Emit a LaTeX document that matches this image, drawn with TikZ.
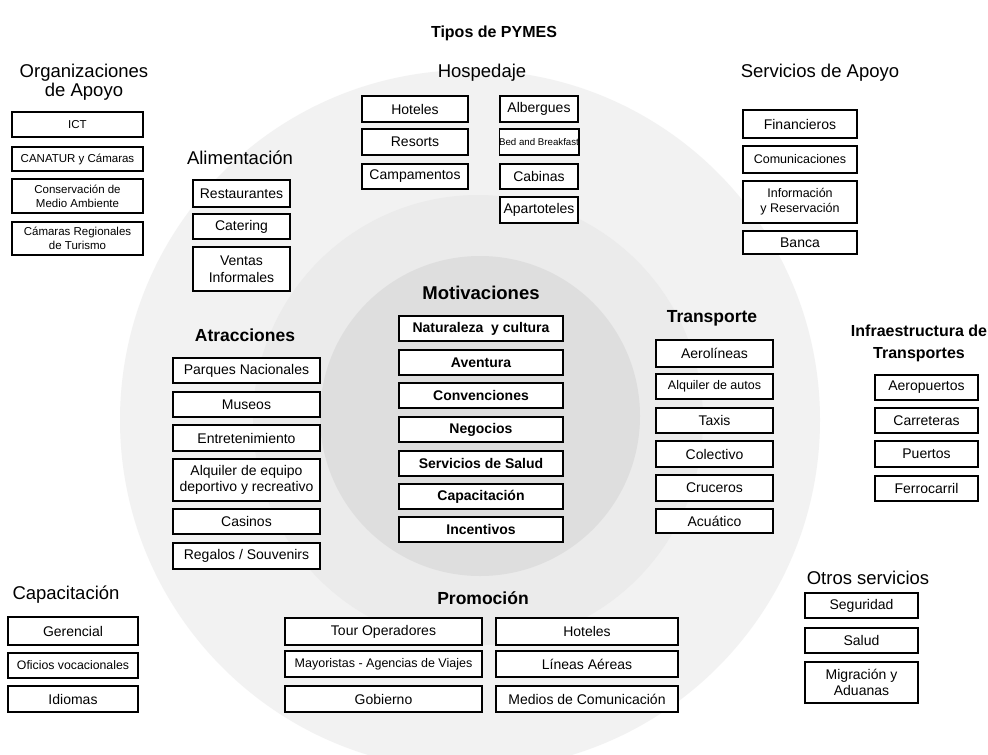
\documentclass[tikz,border=0pt]{standalone}
\usepackage{fontspec}
\setmainfont{Liberation Sans}
\usepackage{tikz}
\tikzset{
	caja/.style={%Cajas con borde
		draw=black, line width=1.2pt, fill=white, inner sep=0pt, align=center,
		font=\fontsize{14}{16.5}\selectfont},
	chica/.style={font=\fontsize{11.5}{14}\selectfont},
	media/.style={font=\fontsize{12.5}{15}\selectfont},
	negrita/.style={font=\bfseries\fontsize{14}{17}\selectfont},
	encab/.style={font=\fontsize{18.5}{19}\selectfont, align=center},
	encabneg/.style={font=\bfseries\fontsize{17.5}{22}\selectfont, align=center}
}

\begin{document}
\begin{tikzpicture}[x=1pt, y=-1pt]
	\useasboundingbox (0,0) rectangle (988,755);
	\clip (0,0) rectangle (988,755);
	\fill [white] (0,0) rectangle (988,755);
	\fill [black!5] (470,420) circle (350);
	\fill [black!8] (478,420) circle (225);
	\fill [black!13] (480,416) circle (160);
	\node [font=\bfseries\fontsize{16}{19}\selectfont] (tipos) at (494,33) {Tipos de PYMES};
	% Organizaciones de Apoyo
	\node [encab] (organizaciones) at (84,82) {Organizaciones\\de Apoyo};
	\node [caja, chica, minimum width=131pt, minimum height=25pt] (ict) at (77.5,124.5) {ICT};
	\node [caja, chica, minimum width=131pt, minimum height=24pt] (canatur) at (77.5,159) {CANATUR y C\'amaras};
	\node [caja, chica, minimum width=131pt, minimum height=34pt] (conservacion) at (77.5,196) {Conservaci\'on de\\Medio Ambiente};
	\node [caja, chica, minimum width=131pt, minimum height=33pt] (camaras) at (77.5,238.5) {C\'amaras Regionales\\de Turismo};
	% Alimentacion
	\node [encab] (alimentacion) at (240,158) {Alimentaci\'on};
	\node [caja, minimum width=97pt, minimum height=27pt] (restaurantes) at (241.5,193.5) {Restaurantes};
	\node [caja, minimum width=97pt, minimum height=25pt] (catering) at (241.5,226.5) {Catering};
	\node [caja, minimum width=97pt, minimum height=44pt] (ventas) at (241.5,269) {Ventas\\Informales};
	% Hospedaje
	\node [encab] (hospedaje) at (482,73) {Hospedaje};
	\node [caja, minimum width=106pt, minimum height=26pt] (hoteles) at (415,109) {Hoteles};
	\node [caja, minimum width=106pt, minimum height=26pt] (resorts) at (415,142) {Resorts};
	\node [caja, minimum width=106pt, minimum height=25pt] (campamentos) at (415,176.5) {Campamentos};
	\node [caja, minimum width=78pt, minimum height=26pt] (albergues) at (539,109) {Albergues};
	\node [caja, minimum width=78pt, minimum height=26pt, font=\fontsize{9.7}{12}\selectfont] (bedbreakfast) at (539,142) {Bed and Breakfast};
	\node [caja, minimum width=78pt, minimum height=25pt] (cabinas) at (539,176.5) {Cabinas};
	\node [caja, minimum width=78pt, minimum height=26pt] (apartoteles) at (539,210) {Apartoteles};
	% Servicios de Apoyo
	\node [encab] (servicios) at (820,73) {Servicios de Apoyo};
	\node [caja, minimum width=114pt, minimum height=28pt] (financieros) at (800,124) {Financieros};
	\node [caja, media, minimum width=114pt, minimum height=27pt] (comunicaciones) at (800,159.5) {Comunicaciones};
	\node [caja, media, minimum width=114pt, minimum height=42pt] (informacion) at (800,202) {Informaci\'on\\y Reservaci\'on};
	\node [caja, minimum width=114pt, minimum height=23pt] (banca) at (800,242.5) {Banca};
	% Atracciones
	\node [encabneg] (atracciones) at (245,335) {Atracciones};
	\node [caja, minimum width=147pt, minimum height=25pt] (parques) at (246.5,370.5) {Parques Nacionales};
	\node [caja, minimum width=147pt, minimum height=25pt] (museos) at (246.5,404.5) {Museos};
	\node [caja, minimum width=147pt, minimum height=26pt] (entretenimiento) at (246.5,438) {Entretenimiento};
	\node [caja, minimum width=147pt, minimum height=42pt] (alquiler) at (246.5,480) {Alquiler de equipo\\deportivo y recreativo};
	\node [caja, minimum width=147pt, minimum height=25pt] (casinos) at (246.5,521.5) {Casinos};
	\node [caja, minimum width=147pt, minimum height=26pt] (regalos) at (246.5,556) {Regalos / Souvenirs};
	% Motivaciones
	\node [encabneg, font=\bfseries\fontsize{18.5}{22}\selectfont] (motivaciones) at (481,293) {Motivaciones};
	\node [caja, negrita, minimum width=164pt, minimum height=25pt] (naturaleza) at (481,328.5) {Naturaleza\ \ y cultura};
	\node [caja, negrita, minimum width=164pt, minimum height=25pt] (aventura) at (481,362.5) {Aventura};
	\node [caja, negrita, minimum width=164pt, minimum height=25pt] (convenciones) at (481,395.5) {Convenciones};
	\node [caja, negrita, minimum width=164pt, minimum height=25pt] (negocios) at (481,429.5) {Negocios};
	\node [caja, negrita, minimum width=164pt, minimum height=25pt] (salud) at (481,463.5) {Servicios de Salud};
	\node [caja, negrita, minimum width=164pt, minimum height=25pt] (capmot) at (481,496.5) {Capacitaci\'on};
	\node [caja, negrita, minimum width=164pt, minimum height=25pt] (incentivos) at (481,529.5) {Incentivos};
	% Transporte
	\node [encabneg] (transporte) at (712,318) {Transporte};
	\node [caja, minimum width=117pt, minimum height=27pt] (aerolineas) at (714.5,353.5) {Aerol\'ineas};
	\node [caja, media, minimum width=117pt, minimum height=25pt] (autos) at (714.5,386.5) {Alquiler de autos};
	\node [caja, minimum width=117pt, minimum height=25pt] (taxis) at (714.5,420.5) {Taxis};
	\node [caja, minimum width=117pt, minimum height=26pt] (colectivo) at (714.5,454) {Colectivo};
	\node [caja, minimum width=117pt, minimum height=26pt] (cruceros) at (714.5,488) {Cruceros};
	\node [caja, minimum width=117pt, minimum height=24pt] (acuatico) at (714.5,521) {Acu\'atico};
	% Infraestructura de Transportes
	\node [encabneg, font=\bfseries\fontsize{16}{22}\selectfont] (infraestructura) at (919,343) {Infraestructura de\\Transportes};
	\node [caja, minimum width=103pt, minimum height=25pt] (aeropuertos) at (926.5,387.5) {Aeropuertos};
	\node [caja, minimum width=103pt, minimum height=25pt] (carreteras) at (926.5,420.5) {Carreteras};
	\node [caja, minimum width=103pt, minimum height=26pt] (puertos) at (926.5,454) {Puertos};
	\node [caja, minimum width=103pt, minimum height=25pt] (ferrocarril) at (926.5,488.5) {Ferrocarril};
	% Capacitacion
	\node [encab] (capacitacion) at (66,595) {Capacitaci\'on};
	\node [caja, minimum width=130pt, minimum height=28pt] (gerencial) at (73,631) {Gerencial};
	\node [caja, font=\fontsize{12.3}{15}\selectfont, minimum width=130pt, minimum height=25pt] (oficios) at (73,665.5) {Oficios vocacionales};
	\node [caja, minimum width=130pt, minimum height=26pt] (idiomas) at (73,699) {Idiomas};
	% Promocion
	\node [encabneg] (promocion) at (483,598) {Promoci\'on};
	\node [caja, minimum width=197pt, minimum height=27pt] (tour) at (383.5,631.5) {Tour Operadores};
	\node [caja, media, minimum width=197pt, minimum height=26pt] (mayoristas) at (383.5,664) {Mayoristas - Agencias de Viajes};
	\node [caja, minimum width=197pt, minimum height=26pt] (gobierno) at (383.5,699) {Gobierno};
	\node [caja, minimum width=182pt, minimum height=27pt] (hotelesprom) at (587,631.5) {Hoteles};
	\node [caja, minimum width=182pt, minimum height=26pt] (lineas) at (587,664) {L\'ineas A\'ereas};
	\node [caja, minimum width=182pt, minimum height=26pt] (medios) at (587,699) {Medios de Comunicaci\'on};
	% Otros servicios
	\node [encab] (otros) at (868,578) {Otros servicios};
	\node [caja, minimum width=113pt, minimum height=25pt] (seguridad) at (861.5,605.5) {Seguridad};
	\node [caja, minimum width=113pt, minimum height=25pt] (saludotros) at (861.5,640.5) {Salud};
	\node [caja, minimum width=113pt, minimum height=41pt] (migracion) at (861.5,682.5) {Migraci\'on y\\Aduanas};
\end{tikzpicture}
\end{document}
